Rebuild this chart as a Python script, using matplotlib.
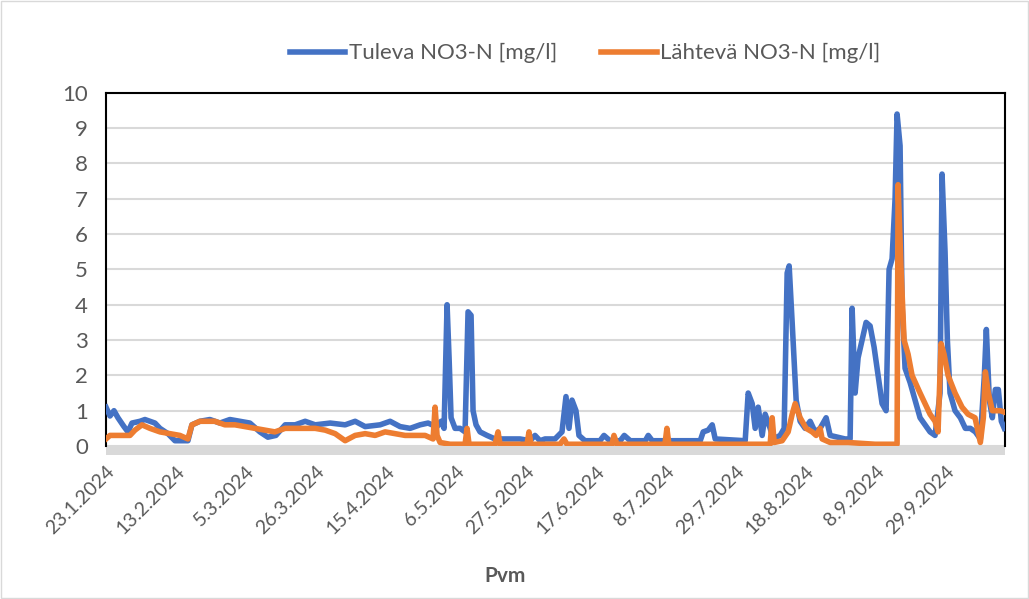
import matplotlib.pyplot as plt
from matplotlib.patches import Rectangle

# days since 23.1.2024, values in mg/l
tuleva_day = [0.0, 1.2, 2.4, 3.6, 5.4, 6.6, 7.8, 10.2, 11.7, 13.2, 14.7, 16.2, 18.6, 20.7,
              24.6, 25.8, 28.2, 31.2, 34.2, 37.2, 40.2, 43.2, 46.2, 48.6, 51.0, 53.8, 56.8,
              59.8, 62.8, 67.3, 71.8, 74.8, 77.8, 82.3, 85.3, 88.3, 91.3, 94.3, 96.7, 97.9,
              99.4, 100.6, 101.5, 102.4, 103.0, 103.6, 104.8, 106.3, 107.8, 108.7, 109.6,
              110.2, 111.1, 112.3, 114.4, 116.8, 124.3, 127.3, 128.8, 130.3, 131.8, 134.8,
              136.9, 138.1, 139.0, 139.9, 141.1, 142.0, 143.8, 148.3, 149.5, 151.3, 154.4,
              155.6, 157.4, 161.9, 162.8, 164.0, 178.4, 179.3, 180.8, 182.0, 182.9, 191.9,
              192.8, 194.0, 194.9, 195.8, 197.0, 197.9, 199.4, 200.3, 202.4, 203.6, 204.5,
              205.1, 206.0, 207.2, 208.4, 209.9, 211.4, 212.9, 214.4, 216.2, 217.4, 221.9,
              223.4, 224.0, 224.9, 225.8, 227.0, 228.2, 229.4, 230.6, 231.8, 233.0, 234.2,
              235.1, 236.0, 236.9, 237.5, 238.4, 239.0, 239.9, 241.4, 242.9, 244.4, 245.9,
              247.4, 248.9, 250.4, 251.0, 251.9, 252.6, 253.4, 254.9, 256.5, 258.0, 259.5,
              261.0, 262.5, 263.7, 264.3, 265.2, 266.1, 267.0, 267.9, 268.8, 269.7]
tuleva_val = [1.1, 0.85, 1.0, 0.8, 0.55, 0.4, 0.65, 0.7, 0.75, 0.7, 0.65, 0.5, 0.35, 0.15,
              0.15, 0.6, 0.7, 0.75, 0.65, 0.75, 0.7, 0.65, 0.4, 0.25, 0.3, 0.6, 0.6,
              0.7, 0.6, 0.65, 0.6, 0.7, 0.55, 0.6, 0.7, 0.55, 0.5, 0.6, 0.65, 0.6,
              0.55, 0.7, 0.5, 4.0, 2.5, 0.8, 0.5, 0.5, 0.4, 3.8, 3.7,
              1.0, 0.6, 0.4, 0.3, 0.2, 0.2, 0.15, 0.3, 0.15, 0.2, 0.2,
              0.4, 1.4, 0.5, 1.3, 1.0, 0.3, 0.15, 0.15, 0.3, 0.15, 0.15,
              0.3, 0.15, 0.15, 0.3, 0.15, 0.15, 0.4, 0.45, 0.6, 0.2, 0.15,
              1.5, 1.2, 0.5, 1.1, 0.3, 0.9, 0.5, 0.2, 0.3, 0.5, 4.9,
              5.1, 3.5, 1.3, 0.7, 0.5, 0.7, 0.4, 0.5, 0.8, 0.3, 0.2,
              0.2, 3.9, 1.5, 2.5, 3.0, 3.5, 3.4, 2.8, 2.0, 1.2, 1.0,
              5.0, 5.3, 7.0, 9.4, 8.5, 4.0, 2.2, 1.8, 1.3, 0.8, 0.6,
              0.4, 0.3, 1.5, 7.7, 5.5, 3.0, 1.5, 1.0, 0.8, 0.5, 0.5,
              0.4, 0.2, 2.0, 3.3, 1.3, 0.8, 1.6, 1.6, 0.7, 0.5]

lahteva_day = [0.0, 1.2, 4.2, 7.2, 8.7, 10.8, 13.2, 16.2, 19.2, 22.2, 24.6, 25.8, 28.2, 32.7,
               35.7, 38.7, 41.7, 44.7, 47.7, 50.7, 53.8, 58.3, 62.8, 65.8, 68.8, 71.8, 74.8,
               77.8, 80.8, 83.8, 86.8, 89.8, 92.8, 95.8, 98.2, 98.8, 99.4, 100.3, 103.3, 107.8,
               108.4, 109.0, 116.8, 117.7, 118.3, 126.4, 127.0, 127.6, 136.3, 137.5, 138.4,
               151.9, 152.5, 153.4, 167.8, 168.4, 169.0, 199.4, 200.0, 200.6, 203.0, 204.8,
               206.0, 206.9, 208.4, 210.2, 212.0, 213.2, 214.4, 215.0, 217.4, 222.8, 230.9,
               237.5, 237.8, 238.7, 239.6, 240.8, 242.0, 244.4, 245.9, 247.4, 248.9, 249.8,
               250.7, 251.6, 252.8, 254.9, 257.0, 258.8, 260.9, 262.5, 263.4, 264.0, 264.9,
               266.1, 268.5, 270.0]
lahteva_val = [0.2, 0.3, 0.3, 0.3, 0.45, 0.6, 0.5, 0.4, 0.35, 0.3, 0.2, 0.6, 0.7, 0.7,
               0.6, 0.6, 0.55, 0.5, 0.45, 0.4, 0.5, 0.5, 0.5, 0.45, 0.35, 0.15, 0.3,
               0.35, 0.3, 0.4, 0.35, 0.3, 0.3, 0.3, 0.2, 1.1, 0.3, 0.1, 0.05, 0.05,
               0.5, 0.05, 0.05, 0.4, 0.05, 0.05, 0.4, 0.05, 0.05, 0.2, 0.05,
               0.05, 0.3, 0.05, 0.05, 0.5, 0.05, 0.05, 0.8, 0.1, 0.15, 0.4,
               0.9, 1.2, 0.8, 0.5, 0.4, 0.3, 0.5, 0.2, 0.1, 0.1, 0.05,
               0.05, 7.4, 5.0, 3.0, 2.6, 2.0, 1.5, 1.2, 0.9, 0.7, 0.4,
               2.9, 2.6, 2.0, 1.5, 1.1, 0.9, 0.8, 0.1, 0.8, 2.1, 1.5,
               1.0, 1.0, 0.95]

tick_labels = ["23.1.2024", "13.2.2024", "5.3.2024", "26.3.2024", "15.4.2024", "6.5.2024",
               "27.5.2024", "17.6.2024", "8.7.2024", "29.7.2024", "18.8.2024", "8.9.2024",
               "29.9.2024"]

plt.rcParams['font.family'] = ['Lato', 'DejaVu Sans']
grey = '#595959'

fig = plt.figure(figsize=(10.29, 5.99), dpi=100)
ax = fig.add_axes([0.103, 0.2554, 0.874, 0.5896])

# grey category-axis band under the zero line
ax.add_patch(Rectangle((0, -0.026), 1, 0.026, transform=ax.transAxes, clip_on=False,
                       facecolor='#D9D9D9', edgecolor='none', zorder=1))

ax.plot(tuleva_day, tuleva_val, color='#4472C4', lw=4, solid_joinstyle='round',
        label='Tuleva NO3-N [mg/l]', zorder=3)
ax.plot(lahteva_day, lahteva_val, color='#ED7D31', lw=4, solid_joinstyle='round',
        label='Lähtevä NO3-N [mg/l]', zorder=4)

ax.set_xlim(0, 270)
ax.set_ylim(0, 10)
ax.set_yticks(range(0, 11))
ax.set_xticks([21 * i for i in range(len(tick_labels))])
ax.set_xticklabels(tick_labels)
ax.tick_params(axis='both', length=0, colors=grey)
ax.tick_params(axis='x', pad=12, labelsize=14, labelrotation=45)
ax.tick_params(axis='y', pad=13, labelsize=16)
for lab in ax.get_xticklabels():
    lab.set_horizontalalignment('right')
    lab.set_rotation_mode('anchor')
ax.grid(axis='y', color='#D9D9D9', lw=1.5)
ax.set_axisbelow(True)

for s in ['left', 'top', 'right']:
    ax.spines[s].set_color('black')
    ax.spines[s].set_linewidth(1.5)
ax.spines['bottom'].set_visible(False)

ax.set_xlabel('Pvm', fontsize=15, fontweight='bold', color=grey, labelpad=6)
ax.xaxis.set_label_coords(0.444, -0.34)

fig.legend(loc='center', bbox_to_anchor=(0.5685, 0.911), ncol=2, frameon=False,
           fontsize=16, labelcolor=grey, handlelength=2.5, handletextpad=0.15,
           columnspacing=2.0)

fig.patches.append(Rectangle((0.001, 0.002), 0.998, 0.996, transform=fig.transFigure,
                             fill=False, edgecolor='#D9D9D9', lw=1))

fig.savefig('out.png', dpi=100)
